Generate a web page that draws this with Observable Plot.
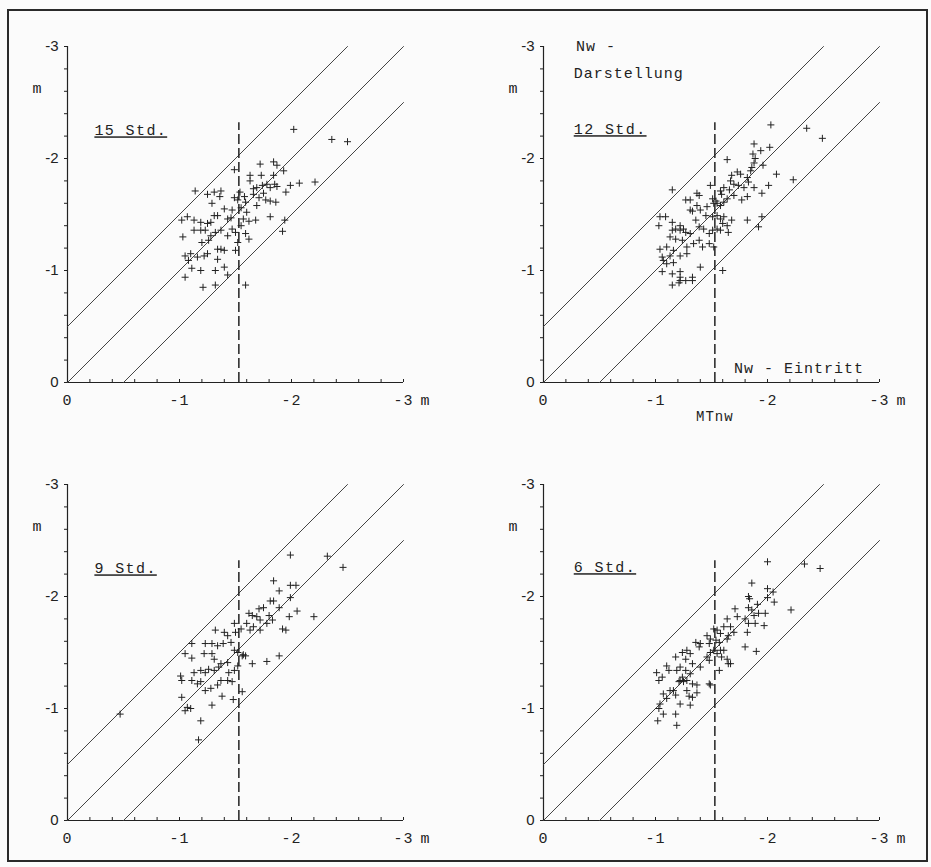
<!DOCTYPE html>
<html><head><meta charset="utf-8">
<script src="https://cdn.jsdelivr.net/npm/d3@7"></script>
<script src="https://cdn.jsdelivr.net/npm/@observablehq/plot@0.6"></script>
<style>
body{margin:0;background:#fff;}
#fig{position:relative;width:931px;height:867px;background:#fbfbfb;overflow:hidden;}
#frame{position:absolute;left:7px;top:9px;width:921px;height:853px;border:2px solid #2a2a2a;box-sizing:border-box;pointer-events:none;}
.panel{position:absolute;}
.panel svg text{letter-spacing:1px;}
.panel svg [aria-label^="x-axis"] text{font-size:15px;}
.panel svg [aria-label^="y-axis"] text{font-family:"Liberation Sans",Arial,sans-serif;letter-spacing:0;font-size:15px;}
.panel svg text.ul{text-decoration:underline;letter-spacing:1.4px;}
</style></head>
<body><div id="fig"><div id="frame"></div></div>
<script>
// Water levels (m); MTnw = mean low-water time level
const majorTicks = [0, -1, -2, -3];
const minorTicks = [0,-0.2,-0.4,-0.6,-0.8,-1,-1.2,-1.4,-1.6,-1.8,-2,-2.2,-2.4,-2.6,-2.8,-3];
const mtnw = -1.53;          // position of dashed MTnw line
const dashTop = -2.32;       // upper end of dashed line
const bandOffsets = [0.5, 0, -0.5]; // lines y = x + offset

const std15 = [
[-1.49,-1.90],[-1.72,-1.95],[-1.84,-1.97],[-1.87,-1.94],[-1.93,-1.89],[-1.63,-1.85],[-1.73,-1.85],[-1.84,-1.85],[-1.63,-1.80],
[-1.14,-1.71],[-1.25,-1.68],[-1.31,-1.70],[-1.37,-1.71],[-1.29,-1.60],[-1.36,-1.66],[-1.49,-1.65],[-1.52,-1.63],[-1.59,-1.61],
[-1.66,-1.73],[-1.69,-1.74],[-1.74,-1.76],[-1.78,-1.77],[-1.81,-1.74],[-1.85,-1.77],[-1.87,-1.75],[-1.99,-1.76],[-2.07,-1.78],[-2.21,-1.79],
[-1.66,-1.68],[-1.71,-1.65],[-1.77,-1.63],[-1.81,-1.62],[-1.86,-1.61],[-1.95,-1.70],
[-1.02,-1.45],[-1.07,-1.48],[-1.13,-1.45],[-1.19,-1.43],[-1.25,-1.42],[-1.28,-1.43],[-1.31,-1.49],[-1.34,-1.49],[-1.43,-1.46],[-1.46,-1.47],[-1.57,-1.46],[-1.62,-1.44],[-1.68,-1.45],[-1.81,-1.48],[-1.94,-1.45],
[-1.03,-1.30],[-1.13,-1.36],[-1.19,-1.36],[-1.23,-1.36],[-1.28,-1.31],[-1.32,-1.34],[-1.37,-1.36],[-1.43,-1.31],[-1.47,-1.37],[-1.50,-1.34],[-1.52,-1.25],[-1.59,-1.33],[-1.62,-1.28],[-1.92,-1.35],
[-1.05,-1.13],[-1.10,-1.15],[-1.16,-1.12],[-1.22,-1.13],[-1.25,-1.15],[-1.34,-1.19],[-1.37,-1.19],[-1.40,-1.18],
[-1.08,-1.09],[-1.11,-1.02],[-1.19,-1.00],[-1.32,-1.00],[-1.40,-1.03],[-1.43,-0.96],[-1.05,-0.94],[-1.21,-0.85],[-1.32,-0.87],[-1.59,-0.87],
[-1.50,-1.18],[-1.34,-1.10],[-1.26,-1.27],
[-2.02,-2.26],[-2.36,-2.17],[-2.50,-2.15],
[-1.55,-1.56],[-1.58,-1.66],[-1.60,-1.52],[-1.54,-1.70],[-1.69,-1.58],[-1.75,-1.69],[-1.47,-1.54],[-1.40,-1.55],[-1.20,-1.25],[-1.55,-1.40]
];

const std12 = [
[-1.88,-2.13],[-2.02,-2.10],[-1.64,-1.99],[-1.87,-2.04],[-1.89,-2.00],[-1.88,-1.96],[-1.86,-1.92],[-1.85,-1.89],[-1.94,-2.07],[-1.96,-1.94],
[-2.08,-1.86],[-2.23,-1.81],[-2.01,-1.76],[-1.73,-1.88],[-1.76,-1.86],[-1.68,-1.85],[-1.67,-1.80],[-1.82,-1.83],[-1.70,-1.77],[-1.74,-1.76],
[-1.79,-1.74],[-1.83,-1.79],[-1.61,-1.74],[-1.66,-1.72],[-1.49,-1.76],[-1.88,-1.74],[-1.95,-1.69],[-1.82,-1.66],[-1.77,-1.63],[-1.70,-1.67],
[-1.64,-1.64],[-1.58,-1.71],[-1.59,-1.68],[-1.51,-1.64],[-1.54,-1.62],[-1.52,-1.60],[-1.55,-1.60],[-1.58,-1.58],[-1.61,-1.61],[-1.37,-1.69],
[-1.39,-1.67],[-1.27,-1.63],[-1.31,-1.63],[-1.15,-1.72],[-1.31,-1.54],[-1.33,-1.53],[-1.37,-1.58],[-1.40,-1.54],[-1.46,-1.57],[-1.45,-1.49],
[-1.04,-1.48],[-1.09,-1.48],[-1.03,-1.40],[-1.15,-1.43],[-1.22,-1.40],[-1.25,-1.37],[-1.36,-1.45],[-1.51,-1.48],[-1.55,-1.49],[-1.58,-1.46],
[-1.61,-1.48],[-1.60,-1.42],[-1.64,-1.40],[-1.68,-1.45],[-1.82,-1.45],[-1.95,-1.48],[-1.92,-1.39],[-1.15,-1.36],[-1.18,-1.37],[-1.22,-1.36],
[-1.27,-1.34],[-1.31,-1.33],[-1.39,-1.39],[-1.43,-1.37],[-1.48,-1.33],[-1.51,-1.36],[-1.55,-1.37],[-1.58,-1.36],[-1.65,-1.34],[-1.13,-1.30],
[-1.18,-1.28],[-1.24,-1.27],[-1.04,-1.19],[-1.10,-1.21],[-1.16,-1.18],[-1.28,-1.21],[-1.34,-1.24],[-1.39,-1.27],[-1.42,-1.21],[-1.48,-1.24],
[-1.52,-1.21],[-1.22,-1.13],[-1.28,-1.15],[-1.06,-1.12],[-1.13,-1.13],[-1.10,-1.06],[-1.16,-1.07],[-1.15,-0.97],[-1.22,-0.99],[-1.06,-0.99],
[-1.22,-0.94],[-1.22,-0.91],[-1.33,-0.94],[-1.33,-0.91],[-1.21,-0.89],[-1.40,-1.03],[-1.60,-1.00],
[-2.03,-2.30],[-2.35,-2.27],[-2.49,-2.18],[-1.07,-1.09],[-1.15,-0.87],[-1.27,-0.91]
];

const std9 = [
[-1.99,-2.37],[-2.32,-2.36],[-2.46,-2.26],[-1.84,-2.14],[-1.99,-2.10],[-2.04,-2.10],[-1.89,-2.05],[-1.81,-1.96],[-1.84,-1.96],[-1.99,-1.99],
[-1.71,-1.89],[-1.75,-1.90],[-1.89,-1.90],[-1.62,-1.85],[-1.65,-1.83],[-1.69,-1.82],[-1.72,-1.79],[-1.80,-1.83],[-1.83,-1.79],[-1.78,-1.76],
[-1.98,-1.82],[-2.05,-1.87],[-2.20,-1.82],[-1.92,-1.71],[-1.95,-1.70],[-1.49,-1.76],[-1.55,-1.71],[-1.50,-1.68],[-1.60,-1.76],[-1.63,-1.70],
[-1.66,-1.73],[-1.72,-1.70],[-1.32,-1.70],[-1.40,-1.68],[-1.43,-1.65],[-1.11,-1.58],[-1.23,-1.58],[-1.29,-1.58],[-1.34,-1.56],[-1.39,-1.58],
[-1.46,-1.59],[-1.05,-1.49],[-1.11,-1.45],[-1.22,-1.49],[-1.29,-1.49],[-1.31,-1.44],[-1.49,-1.52],[-1.52,-1.50],[-1.56,-1.47],[-1.57,-1.48],
[-1.59,-1.47],[-1.37,-1.40],[-1.43,-1.41],[-1.65,-1.40],[-1.78,-1.42],[-1.89,-1.47],[-1.13,-1.32],[-1.19,-1.34],[-1.23,-1.32],[-1.26,-1.35],
[-1.31,-1.34],[-1.35,-1.37],[-1.01,-1.29],[-1.02,-1.25],[-1.11,-1.25],[-1.16,-1.22],[-1.19,-1.24],[-1.23,-1.16],[-1.28,-1.18],[-1.34,-1.21],
[-1.38,-1.11],[-1.44,-1.32],[-1.49,-1.34],[-1.52,-1.38],[-1.37,-1.25],[-1.43,-1.25],[-1.47,-1.24],[-1.02,-1.10],[-1.05,-0.98],[-1.07,-1.01],
[-1.10,-1.00],[-1.19,-0.89],[-1.29,-1.03],[-1.48,-1.08],[-1.56,-1.15],[-1.17,-0.72],[-0.47,-0.95]
];

const std6 = [
[-2.00,-2.31],[-2.33,-2.29],[-2.47,-2.25],[-1.86,-2.12],[-1.83,-2.00],[-1.84,-1.98],[-2.00,-2.07],[-2.05,-2.04],[-2.06,-1.95],[-2.00,-1.99],
[-1.91,-1.93],[-1.83,-1.90],[-1.86,-1.88],[-1.92,-1.85],[-1.88,-1.83],[-1.98,-1.85],[-2.21,-1.88],[-1.71,-1.89],[-1.73,-1.82],[-1.80,-1.80],
[-1.83,-1.76],[-1.89,-1.76],[-1.97,-1.74],[-1.64,-1.80],[-1.67,-1.73],[-1.70,-1.68],[-1.65,-1.65],[-1.64,-1.62],[-1.55,-1.70],[-1.58,-1.67],
[-1.61,-1.73],[-1.52,-1.71],[-1.82,-1.68],[-1.80,-1.55],[-1.90,-1.51],[-1.46,-1.65],[-1.49,-1.62],[-1.54,-1.61],[-1.57,-1.59],[-1.48,-1.58],
[-1.36,-1.59],[-1.40,-1.58],[-1.39,-1.55],[-1.52,-1.52],[-1.55,-1.49],[-1.58,-1.52],[-1.61,-1.52],[-1.59,-1.46],[-1.64,-1.44],[-1.67,-1.40],
[-1.49,-1.50],[-1.46,-1.46],[-1.48,-1.43],[-1.24,-1.50],[-1.28,-1.52],[-1.31,-1.49],[-1.18,-1.46],[-1.27,-1.44],[-1.33,-1.40],[-1.40,-1.37],
[-1.22,-1.37],[-1.27,-1.34],[-1.31,-1.31],[-1.10,-1.38],[-1.12,-1.34],[-1.19,-1.34],[-1.01,-1.32],[-1.06,-1.28],[-1.03,-1.25],[-1.22,-1.25],
[-1.24,-1.28],[-1.21,-1.24],[-1.25,-1.24],[-1.28,-1.25],[-1.33,-1.22],[-1.37,-1.21],[-1.48,-1.22],[-1.49,-1.21],[-1.13,-1.16],[-1.16,-1.16],
[-1.18,-1.12],[-1.07,-1.13],[-1.10,-1.09],[-1.28,-1.16],[-1.30,-1.11],[-1.33,-1.10],[-1.37,-1.14],[-1.22,-1.04],[-1.31,-1.03],[-1.04,-1.04],
[-1.03,-1.00],[-1.07,-0.95],[-1.02,-0.89],[-1.18,-0.95],[-1.19,-0.85],[-1.57,-1.34],[-1.65,-1.40]
];

const panelLabels = ["15 Std.", "12 Std.", "9 Std.", "6 Std."];
const labelPos = [[-0.24,-2.25],[-0.27,-2.26],[-0.24,-2.25],[-0.27,-2.26]];
const notes12 = [
  {text: "Nw -", x: -0.29, y: -3.0, weight: "bold"},
  {text: "Darstellung", x: -0.27, y: -2.76, weight: "normal"},
  {text: "Nw - Eintritt", x: -1.70, y: -0.13, weight: "normal"}
];

// pixel boxes of each panel SVG
const layout = [
  {left: 0,   top: 0,   width: 465, height: 434, ml: 67, mt: 46},
  {left: 465, top: 0,   width: 466, height: 434, ml: 78, mt: 46},
  {left: 0,   top: 434, width: 465, height: 433, ml: 67, mt: 50},
  {left: 465, top: 434, width: 466, height: 433, ml: 78, mt: 50}
];
const series = [std15, std12, std9, std6];
const INNER = 336;
const ink = "#222";
const mono = "'Liberation Mono','DejaVu Sans Mono',monospace";

const fmt = d => majorTicks.includes(d) ? (d === 0 ? "0" : "-" + Math.abs(d)) : "";

const diag = bandOffsets.map(o => {
  const x1 = Math.min(0, -o), x2 = Math.max(-3, -3 - o);
  return [{x: x1, y: x1 + o, k: o}, {x: x2, y: x2 + o, k: o}];
}).flat();

const fig = document.getElementById("fig");
series.forEach((pts, i) => {
  const L = layout[i];
  const marks = [
    Plot.ruleY([0], {stroke: ink, strokeWidth: 1.2}),
    Plot.ruleX([0], {stroke: ink, strokeWidth: 1.2}),
    Plot.ruleX(minorTicks, {stroke: ink, strokeWidth: 1, insetTop: INNER - 3}),
    Plot.line(diag, {x: "x", y: "y", z: "k", stroke: "#444", strokeWidth: 1}),
    Plot.ruleX([mtnw], {y1: 0, y2: dashTop, stroke: ink, strokeWidth: 1.5, strokeDasharray: "10,4"}),
    Plot.dot(pts, {x: d => d[0], y: d => d[1], symbol: "plus", r: 2.4, stroke: ink, strokeWidth: 1}),
    Plot.text([panelLabels[i]], {x: labelPos[i][0], y: labelPos[i][1], textAnchor: "start", fontSize: 15, fill: ink,
      fontFamily: mono}),
    Plot.text(["m"], {frameAnchor: "bottom-right", dx: 27, dy: 22, fontSize: 15, fontFamily: mono, fill: ink}),
    Plot.text(["m"], {frameAnchor: "top-left", dx: -35, dy: 36, fontSize: 15, fontFamily: mono, fill: ink})
  ];
  if (i === 1) {
    marks.push(Plot.text(notes12, {x: "x", y: "y", text: "text", textAnchor: "start", fontSize: 15, fontFamily: mono,
      fontWeight: "weight", fill: ink}));
    marks.push(Plot.text(["MTnw"], {x: mtnw, y: 0, dy: 34, textAnchor: "middle", fontSize: 14, fontFamily: mono, fill: ink}));
  }
  const chart = Plot.plot({
    width: L.width, height: L.height,
    marginLeft: L.ml, marginTop: L.mt,
    marginRight: L.width - L.ml - INNER, marginBottom: L.height - L.mt - INNER,
    x: {domain: [0, -3], ticks: minorTicks, tickFormat: fmt, tickSize: 0, tickPadding: 12, label: null},
    y: {domain: [0, -3], ticks: minorTicks, tickFormat: fmt, tickSize: 3, tickPadding: 6, label: null},
    style: {background: "transparent", fontFamily: mono, fontSize: "15px", color: ink, overflow: "visible"},
    marks
  });
  // underline the time labels
  chart.querySelectorAll("text").forEach(t => {
    if (panelLabels.includes(t.textContent)) t.setAttribute("class", "ul");
  });
  const wrap = document.createElement("div");
  wrap.className = "panel";
  wrap.style.left = L.left + "px";
  wrap.style.top = L.top + "px";
  wrap.appendChild(chart);
  fig.appendChild(wrap);
});
</script>
</body></html>
